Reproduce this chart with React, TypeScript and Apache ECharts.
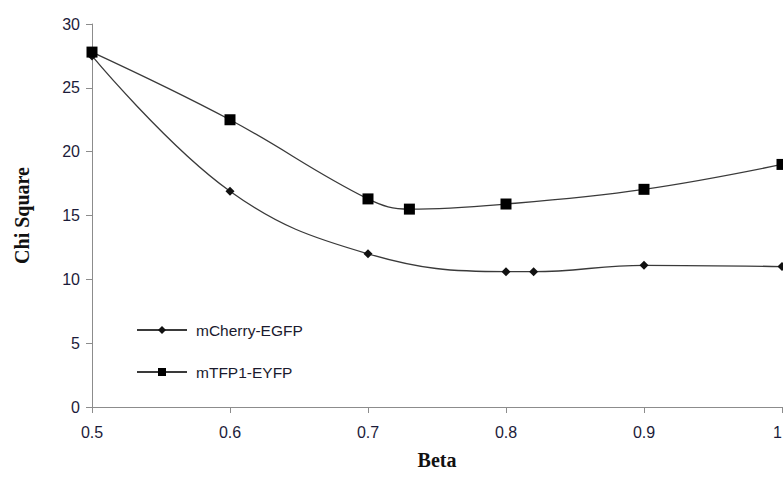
import React, { useEffect, useRef } from "react";
import * as echarts from "echarts";

const cherryX = [0.5, 0.6, 0.7, 0.8, 0.82, 0.9, 1.0];
const cherryY = [27.5, 16.9, 12.0, 10.6, 10.6, 11.1, 11.0];
const tfpX = [0.5, 0.6, 0.7, 0.73, 0.8, 0.9, 1.0];
const tfpY = [27.8, 22.5, 16.3, 15.5, 15.9, 17.05, 19.0];
const seriesNames = ["mCherry-EGFP", "mTFP1-EYFP"];

export default function App() {
  const ref = useRef<HTMLDivElement>(null);
  useEffect(() => {
    if (!ref.current) return;
    const chart = echarts.init(ref.current, undefined, { renderer: "svg" });
    const labelColor = "#1c1c3a";
    chart.setOption({
      animation: false,
      backgroundColor: "#ffffff",
      grid: { left: 92, right: 1, top: 24, bottom: 71, containLabel: false, outerBoundsMode: "none" },
      legend: {
        orient: "vertical",
        left: 131,
        top: 317,
        itemGap: 26,
        itemWidth: 50,
        itemHeight: 10,
        textStyle: { fontFamily: "Liberation Sans, Arial", fontSize: 15.5, color: "#1a1a2e", padding: [0, 0, 0, 4] },
        data: seriesNames,
      },
      xAxis: {
        type: "value",
        min: 0.5,
        max: 1.0,
        interval: 0.1,
        name: "Beta",
        nameLocation: "middle",
        nameGap: 43,
        nameTextStyle: { fontFamily: "Liberation Serif, Times New Roman", fontWeight: "bold", fontSize: 20, color: "#111" },
        axisLine: { show: true, lineStyle: { color: "#8c8c8c", width: 1 } },
        axisTick: { show: true, length: 6, lineStyle: { color: "#8c8c8c" } },
        splitLine: { show: false },
        axisLabel: {
          fontFamily: "Liberation Sans, Arial",
          fontSize: 16,
          color: labelColor,
          margin: 17,
          alignMaxLabel: "right",
          formatter: (v: number) => (Math.abs(v - 1) < 1e-9 ? "1" : v.toFixed(1)),
        },
      },
      yAxis: {
        type: "value",
        min: 0,
        max: 30,
        interval: 5,
        name: "Chi Square",
        nameLocation: "middle",
        nameGap: 60,
        nameTextStyle: { fontFamily: "Liberation Serif, Times New Roman", fontWeight: "bold", fontSize: 20, color: "#111" },
        axisLine: { show: true, lineStyle: { color: "#8c8c8c", width: 1 } },
        axisTick: { show: true, length: 6, lineStyle: { color: "#8c8c8c" } },
        splitLine: { show: false },
        axisLabel: { fontFamily: "Liberation Sans, Arial", fontSize: 16, color: labelColor, margin: 12 },
      },
      series: [
        {
          name: seriesNames[0],
          type: "line",
          smooth: 0.4,
          symbol: "diamond",
          symbolSize: 9,
          data: cherryX.map((x, i) => [x, cherryY[i]]),
          itemStyle: { color: "#111" },
          lineStyle: { color: "#3a3a3a", width: 1.3 },
          clip: false,
        },
        {
          name: seriesNames[1],
          type: "line",
          smooth: 0.4,
          symbol: "rect",
          symbolSize: 11,
          data: tfpX.map((x, i) => [x, tfpY[i]]),
          itemStyle: { color: "#000" },
          lineStyle: { color: "#3a3a3a", width: 1.3 },
          clip: false,
        },
      ],
    });
    return () => chart.dispose();
  }, []);
  return <div ref={ref} style={{ width: 783, height: 478, position: "fixed", left: 0, top: 0 }} />;
}
